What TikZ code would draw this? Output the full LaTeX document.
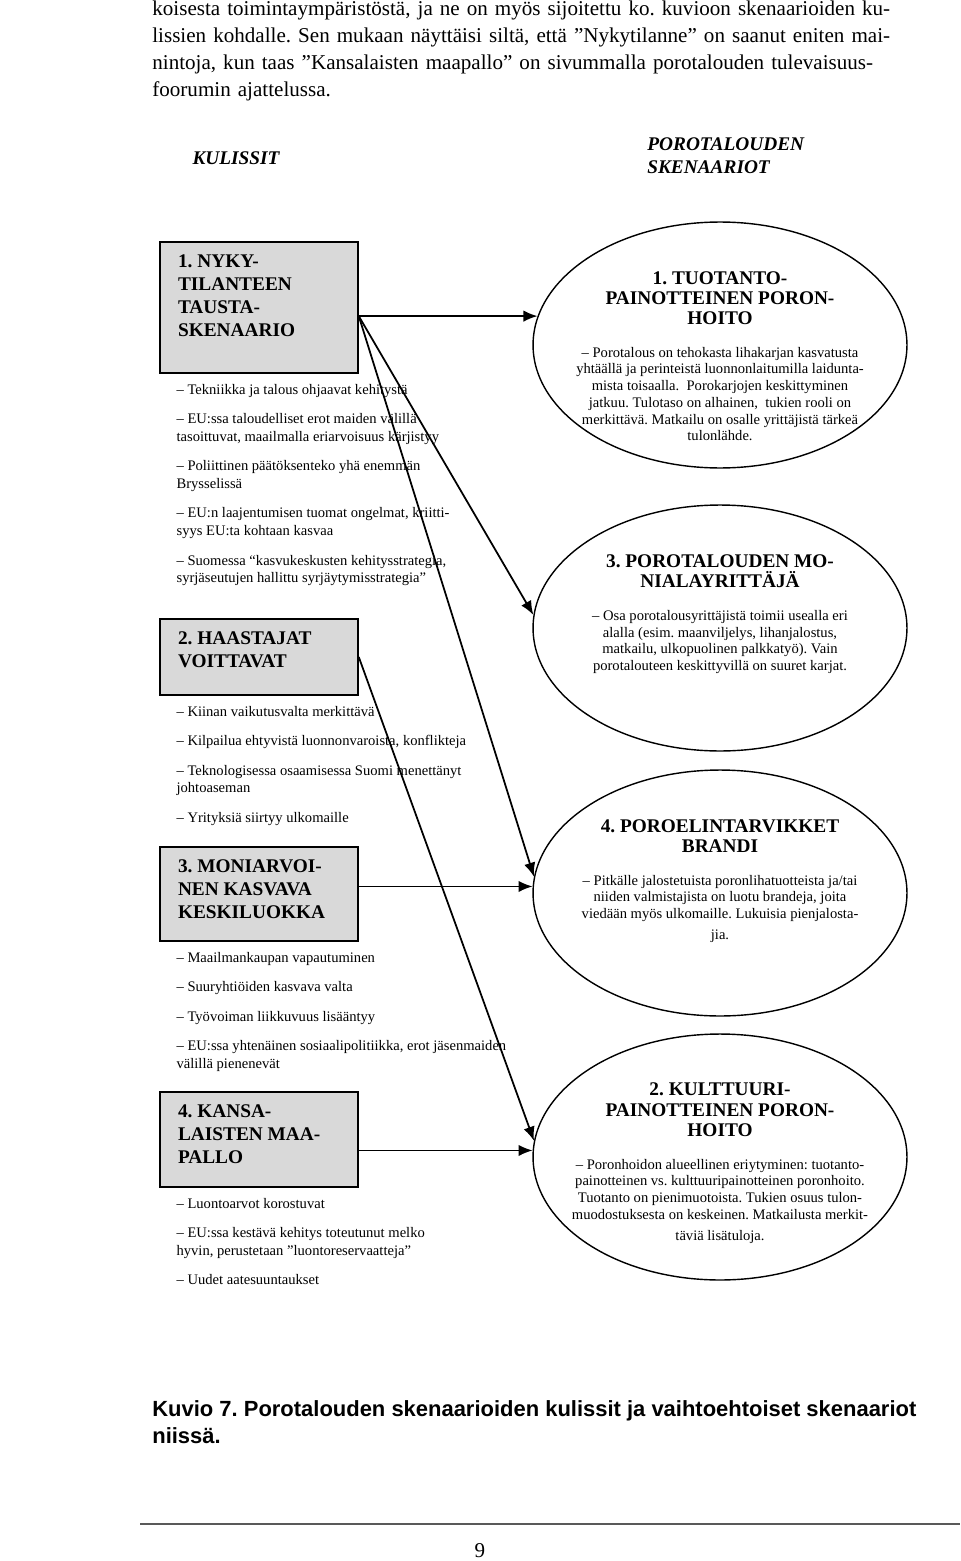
\documentclass[tikz,border=0pt]{standalone}
\usepackage{fontspec}
\setmainfont{Liberation Serif}
\setsansfont{Liberation Sans}
\usetikzlibrary{positioning,shapes.geometric,arrows.meta}
\frenchspacing

\definecolor{kulissiharmaa}{gray}{0.85}
\definecolor{viivanharmaa}{gray}{0.35}

% box heading, pushed to the top of a box of fixed height
\newcommand{\kulissiteksti}[2]{\parbox[t][#1][t]{3.24cm}{#2}}
% gap between two list items
\newcommand{\vali}{\\[6.8pt]}
% heading and text of a scenario ellipse (zero size, so the ellipse keeps its own size)
\newcommand{\sisalto}[3]{\makebox[0pt]{\raisebox{#1}[0pt][0pt]{\parbox[c]{6.6cm}{\centering
  {\bfseries\fontsize{11}{11.6}\selectfont #2\endgraf}\vspace{9pt}%
  {\fontsize{8.3}{9.5}\selectfont #3\endgraf}}}}}

\tikzset{
  teksti/.style={anchor=north west, inner sep=0pt, text width=16.06cm, align=left, font=\fontsize{12}{15.4}\selectfont},
  otsikko/.style={inner sep=0pt, font=\bfseries\itshape\fontsize{11}{13}\selectfont},
  kulissi/.style={draw, line width=0.9pt, fill=kulissiharmaa, inner xsep=0.36cm, inner ysep=0.26cm, font=\bfseries\fontsize{11}{13.1}\selectfont},
  kohdat/.style={align=left, inner sep=0pt, font=\fontsize{8.3}{10}\selectfont},
  skenaario/.style={ellipse, draw, line width=0.8pt, minimum width=7.48cm, minimum height=4.92cm, inner sep=0pt},
  nuoli/.style={line width=1pt, -{Latex[length=8pt,width=6.5pt]}},
  kuvateksti/.style={anchor=north west, inner sep=0pt, align=left, font=\sffamily\bfseries\fontsize{12.5}{15.4}\selectfont}
}

\begin{document}
\begin{tikzpicture}[x=0.02cm, y=-0.02cm]
\useasboundingbox (0,0) rectangle (960,1561);

% Text above the figure
\node[teksti] (kappale) at (152,0.5) {%
\makebox[\linewidth][s]{koisesta toimintaympäristöstä, ja ne on myös sijoitettu ko. kuvioon skenaarioiden ku-}\\
\makebox[\linewidth][s]{lissien kohdalle. Sen mukaan näyttäisi siltä, että ”Nykytilanne” on saanut eniten mai-}\\
\makebox[\linewidth][s]{nintoja, kun taas ”Kansalaisten maapallo” on sivummalla porotalouden tulevaisuus-}\\
foorumin ajattelussa.};

% Column titles
\node[otsikko] (kulissit) at (236,158) {KULISSIT};
\node[otsikko, anchor=west, align=left] (skenaariot) at (647,156) {POROTALOUDEN\\SKENAARIOT};

% Kulissit
\node[kulissi] (k1) at (259,307.5) {\kulissiteksti{2.10cm}{1. NYKY-\\TILANTEEN\\TAUSTA-\\SKENAARIO}};
\node[kohdat, below=0.2cm of k1.south west, anchor=north west, xshift=0.34cm] (k1lista) {%
– Tekniikka ja talous ohjaavat kehitystä\vali
– EU:ssa taloudelliset erot maiden välillä\\
tasoittuvat, maailmalla eriarvoisuus kärjistyy\vali
– Poliittinen päätöksenteko yhä enemmän\\
Brysselissä\vali
– EU:n laajentumisen tuomat ongelmat, kriitti-\\
syys EU:ta kohtaan kasvaa\vali
– Suomessa “kasvukeskusten kehitysstrategia,\\
syrjäseutujen hallittu syrjäytymisstrategia”};

\node[kulissi] (k2) at (259,657) {\kulissiteksti{1.00cm}{2. HAASTAJAT\\VOITTAVAT}};
\node[kohdat, below=0.2cm of k2.south west, anchor=north west, xshift=0.34cm] (k2lista) {%
– Kiinan vaikutusvalta merkittävä\vali
– Kilpailua ehtyvistä luonnonvaroista, konflikteja\vali
– Teknologisessa osaamisessa Suomi menettänyt\\
johtoaseman\vali
– Yrityksiä siirtyy ulkomaille};

\node[kulissi] (k3) at (259,894) {\kulissiteksti{1.36cm}{3. MONIARVOI-\\NEN KASVAVA\\KESKILUOKKA}};
\node[kohdat, below=0.2cm of k3.south west, anchor=north west, xshift=0.34cm] (k3lista) {%
– Maailmankaupan vapautuminen\vali
– Suuryhtiöiden kasvava valta\vali
– Työvoiman liikkuvuus lisääntyy\vali
– EU:ssa yhtenäinen sosiaalipolitiikka, erot jäsenmaiden\\
välillä pienenevät};

\node[kulissi] (k4) at (259,1139.5) {\kulissiteksti{1.38cm}{4. KANSA-\\LAISTEN MAA-\\PALLO}};
\node[kohdat, below=0.2cm of k4.south west, anchor=north west, xshift=0.34cm] (k4lista) {%
– Luontoarvot korostuvat\vali
– EU:ssa kestävä kehitys toteutunut melko\\
hyvin, perustetaan ”luontoreservaatteja”\vali
– Uudet aatesuuntaukset};

% Skenaariot
\node[skenaario] (s1) at (720,345) {\sisalto{-0.31cm}{1. TUOTANTO-\\PAINOTTEINEN PORON-\\HOITO}{%
– Porotalous on tehokasta lihakarjan kasvatusta\\
yhtäällä ja perinteistä luonnonlaitumilla laidunta-\\
mista toisaalla.\ \ Porokarjojen keskittyminen\\
jatkuu. Tulotaso on alhainen,\ \ tukien rooli on\\
merkittävä. Matkailu on osalle yrittäjistä tärkeä\\
tulonlähde.}};

\node[skenaario] (s3) at (720,628) {\sisalto{0.19cm}{3. POROTALOUDEN MO-\\NIALAYRITTÄJÄ}{%
– Osa porotalousyrittäjistä toimii usealla eri\\
alalla (esim. maanviljelys, lihanjalostus,\\
matkailu, ulkopuolinen palkkatyö). Vain\\
porotalouteen keskittyvillä on suuret karjat.}};

\node[skenaario] (s4) at (720,893) {\sisalto{0.15cm}{4. POROELINTARVIKKET\\BRANDI}{%
– Pitkälle jalostetuista poronlihatuotteista ja/tai\\
niiden valmistajista on luotu brandeja, joita\\
viedään myös ulkomaille. Lukuisia pienjalosta-\\[2.5pt]
jia.}};

\node[skenaario] (s2) at (720,1157) {\sisalto{-0.21cm}{2. KULTTUURI-\\PAINOTTEINEN PORON-\\HOITO}{%
– Poronhoidon alueellinen eriytyminen: tuotanto-\\
painotteinen vs. kulttuuripainotteinen poronhoito.\\
Tuotanto on pienimuotoista. Tukien osuus tulon-\\
muodostuksesta on keskeinen. Matkailusta merkit-\\[2.5pt]
täviä lisätuloja.}};

% Connect the nodes
\coordinate (k1ulos) at (k1.east |- s1.171);
\draw[nuoli] (k1ulos) -- (s1.171);
\draw[nuoli] (k1ulos) -- (s3.176);
\draw[nuoli] (k1ulos) -- (s4.175);
\draw[nuoli] (k2.east) -- (s2.175);
\draw[nuoli] (k3.east |- s4.178) -- (s4.178);
\draw[nuoli] (k4.east |- s2.178) -- (s2.178);

% Caption and page foot
\node[kuvateksti] (kuvio) at (152,1400) {Kuvio 7. Porotalouden skenaarioiden kulissit ja vaihtoehtoiset skenaariot\\niissä.};
\coordinate (viivaA) at (140,1524);
\coordinate (viivaB) at (960,1524);
\draw[viivanharmaa, line width=1.2pt] (viivaA) -- (viivaB);
\node[font=\fontsize{12}{14}\selectfont, inner sep=0pt] (sivu) at (480,1551) {9};
\end{tikzpicture}
\end{document}
